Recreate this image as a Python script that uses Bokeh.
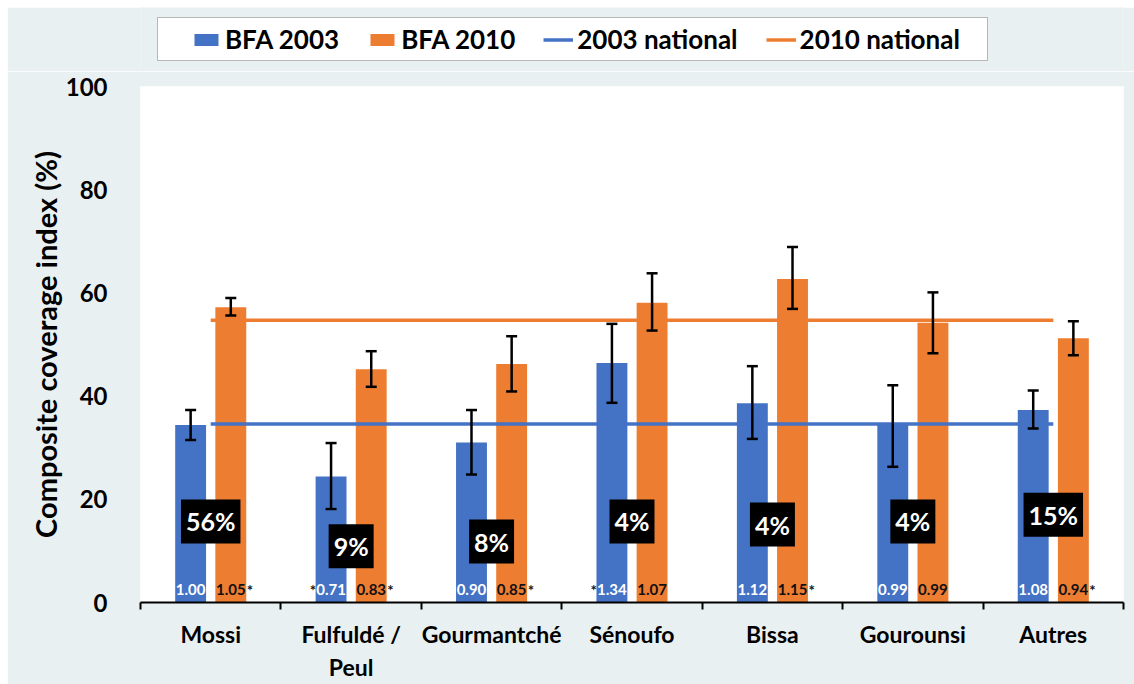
from bokeh.plotting import figure
from bokeh.layouts import column
from bokeh.models import (ColumnDataSource, Range1d, FixedTicker, LinearAxis, Whisker,
                          TeeHead, Legend, LegendItem)
from bokeh.transform import dodge
from bokeh.core.properties import value
from bokeh.embed import file_html
from bokeh.resources import INLINE

# ---------------- data ----------------
categories = ["Mossi", "Fulfuldé /\nPeul", "Gourmantché", "Sénoufo", "Bissa", "Gourounsi", "Autres"]
cov_2003 = [34.4, 24.4, 31.0, 46.4, 38.6, 34.6, 37.3]
lo_2003 = [31.5, 18.1, 24.8, 38.7, 31.7, 26.3, 33.7]
hi_2003 = [37.3, 30.9, 37.3, 54.0, 45.8, 42.1, 41.1]
cov_2010 = [57.2, 45.2, 46.2, 58.1, 62.7, 54.2, 51.2]
lo_2010 = [55.6, 41.8, 40.9, 52.7, 56.9, 48.3, 47.9]
hi_2010 = [59.0, 48.7, 51.6, 63.8, 68.9, 60.1, 54.5]
national_2003 = 34.6
national_2010 = 54.7
pop_share = ["56%", "9%", "8%", "4%", "4%", "4%", "15%"]
pop_share_y = [15.7, 10.9, 11.8, 15.7, 15.1, 15.7, 17.0]
ratio_2003 = ["1.00", "0.71", "0.90", "1.34", "1.12", "0.99", "1.08"]
sig_2003 = [False, True, False, True, False, False, False]
ratio_2010 = ["1.05", "0.83", "0.85", "1.07", "1.15", "0.99", "0.94"]
sig_2010 = [True, True, True, False, True, False, True]
y_ticks = [0, 20, 40, 60, 80, 100]
legend_labels = ["BFA 2003", "BFA 2010", "2003 national", "2010 national"]

BLUE = "#4472C4"
ORANGE = "#ED7D31"
BG = "#E8F0F2"
FONT = value("Lato")

xc = [i + 0.5 for i in range(len(categories))]
src = ColumnDataSource(dict(
    x=xc, cat=categories,
    c03=cov_2003, l03=lo_2003, h03=hi_2003,
    c10=cov_2010, l10=lo_2010, h10=hi_2010,
    share=pop_share, share_y=pop_share_y,
    r03=ratio_2003, r10=ratio_2010,
    zero=[0] * len(categories),
    s03=["*" if s else "" for s in sig_2003],
    s10=["*" if s else "" for s in sig_2010],
))

OFF = 0.143
BW = 0.22
W = 1127

# ---------------- legend strip (renderers hidden; legend still shows their glyphs) ----------------
lg = figure(width=W, height=64, output_backend="svg", toolbar_location=None,
            x_axis_type=None, y_axis_type=None,
            x_range=Range1d(0, len(categories)), y_range=Range1d(0, 100),
            min_border=0, min_border_left=0, min_border_right=0, min_border_top=0, min_border_bottom=0)
lg.background_fill_color = BG
lg.border_fill_color = BG
lg.outline_line_color = None
lg.xgrid.visible = False
lg.ygrid.visible = False
lr1 = lg.vbar(x="x", top="c03", width=BW, source=src, fill_color=BLUE, line_color=None)
lr2 = lg.vbar(x="x", top="c10", width=BW, source=src, fill_color=ORANGE, line_color=None)
lr3 = lg.line(x=[xc[0], xc[-1]], y=[national_2003, national_2003], line_color=BLUE, line_width=3.5)
lr4 = lg.line(x=[xc[0], xc[-1]], y=[national_2010, national_2010], line_color=ORANGE, line_width=3.5)
for r in (lr1, lr2, lr3, lr4):
    r.visible = False
legend = Legend(items=[LegendItem(label=lab, renderers=[r])
                       for lab, r in zip(legend_labels, [lr1, lr2, lr3, lr4])],
                orientation="horizontal", location=(17, 10), click_policy="none")
legend.label_text_font = "Lato"
legend.label_text_font_style = "bold"
legend.label_text_font_size = "26px"
legend.label_text_color = "black"
legend.glyph_width = 30
legend.glyph_height = 15
legend.label_standoff = 4
legend.spacing = 28
legend.border_line_color = "#6F6F6F"
legend.border_line_width = 1.5
legend.background_fill_color = "white"
legend.background_fill_alpha = 1
legend.inactive_fill_alpha = 0
legend.margin = 0
try:
    legend.padding = dict(left=33, right=27, top=5, bottom=5)
except Exception:
    legend.padding = 9
lg.add_layout(legend, "center")

# ---------------- main chart ----------------
p = figure(width=W, height=613, output_backend="svg", toolbar_location=None,
           x_range=Range1d(0, len(categories)), y_range=Range1d(0, 100),
           x_axis_type=None, y_axis_type=None,
           min_border_left=133, min_border_right=11, min_border_top=15, min_border_bottom=81)
p.background_fill_color = "white"
p.border_fill_color = BG
p.outline_line_color = None

yaxis = LinearAxis(ticker=FixedTicker(ticks=y_ticks))
yaxis.axis_line_color = None
yaxis.major_tick_line_color = None
yaxis.minor_tick_line_color = None
yaxis.major_label_standoff = 27
yaxis.major_label_text_font = "Lato"
yaxis.major_label_text_font_style = "bold"
yaxis.major_label_text_font_size = "24px"
yaxis.major_label_text_color = "black"
yaxis.axis_label = "Composite coverage index (%)"
yaxis.axis_label_text_font = "Lato"
yaxis.axis_label_text_font_style = "bold"
yaxis.axis_label_text_font_size = "29px"
yaxis.axis_label_text_color = "black"
yaxis.axis_label_standoff = 0
p.add_layout(yaxis, "left")

xaxis = LinearAxis(ticker=FixedTicker(ticks=xc, minor_ticks=list(range(len(categories) + 1))))
xaxis.major_label_overrides = {x: c for x, c in zip(xc, categories)}
xaxis.axis_line_color = "black"
xaxis.axis_line_width = 2
xaxis.major_tick_line_color = None
xaxis.major_tick_out = 0
xaxis.major_tick_in = 0
xaxis.minor_tick_line_color = "black"
xaxis.minor_tick_line_width = 2
xaxis.minor_tick_out = 7
xaxis.minor_tick_in = 0
xaxis.major_label_standoff = 10
xaxis.major_label_text_font = "Lato"
xaxis.major_label_text_font_style = "bold"
xaxis.major_label_text_font_size = "23px"
xaxis.major_label_text_color = "black"
p.add_layout(xaxis, "below")

p.ygrid.grid_line_color = "#DCDCDC"
p.ygrid.grid_line_width = 2
p.ygrid.ticker = FixedTicker(ticks=y_ticks[1:])
p.xgrid.grid_line_color = None

b03 = p.vbar(x=dodge("x", -OFF, range=p.x_range), top="c03", width=BW, source=src,
             fill_color=BLUE, line_color=None)
b10 = p.vbar(x=dodge("x", OFF, range=p.x_range), top="c10", width=BW, source=src,
             fill_color=ORANGE, line_color=None)

p.line(x=[xc[0], xc[-1]], y=[national_2003, national_2003], line_color=BLUE, line_width=3.5)
p.line(x=[xc[0], xc[-1]], y=[national_2010, national_2010], line_color=ORANGE, line_width=3.5)

for col_l, col_h, off in (("l03", "h03", -OFF), ("l10", "h10", OFF)):
    w = Whisker(base=dodge("x", off, range=p.x_range), lower=col_l, upper=col_h, source=src,
                line_color="black", line_width=2.5, level="annotation",
                upper_head=TeeHead(size=11, line_color="black", line_width=2.5),
                lower_head=TeeHead(size=11, line_color="black", line_width=2.5))
    p.add_layout(w)

common = dict(text_font=FONT, text_font_style="bold", text_font_size="15px",
              text_baseline="alphabetic", y_offset=-13, source=src)
p.text(x=dodge("x", -OFF, range=p.x_range), y="zero", text="r03", text_color="white",
       text_align="center", **common)
p.text(x=dodge("x", OFF, range=p.x_range), y="zero", text="r10", text_color="#111111",
       text_align="center", **common)
p.text(x=dodge("x", -OFF, range=p.x_range), y="zero", text="s03", text_color="#111111",
       text_align="right", x_offset=-15, **common)
p.text(x=dodge("x", OFF, range=p.x_range), y="zero", text="s10", text_color="#111111",
       text_align="left", x_offset=16, **common)

share_r = p.text(x="x", y="share_y", text="share", source=src, text_font=FONT,
                 text_font_style="bold", text_font_size="25px", text_color="white",
                 text_align="center", text_baseline="middle",
                 background_fill_color="black", padding=5)
try:
    share_r.glyph.padding = dict(x=5, y=7)
except Exception:
    pass

layout = column(lg, p, spacing=0, margin=(7, 0, 0, 7))
open("out.html", "w").write(file_html(layout, INLINE))
